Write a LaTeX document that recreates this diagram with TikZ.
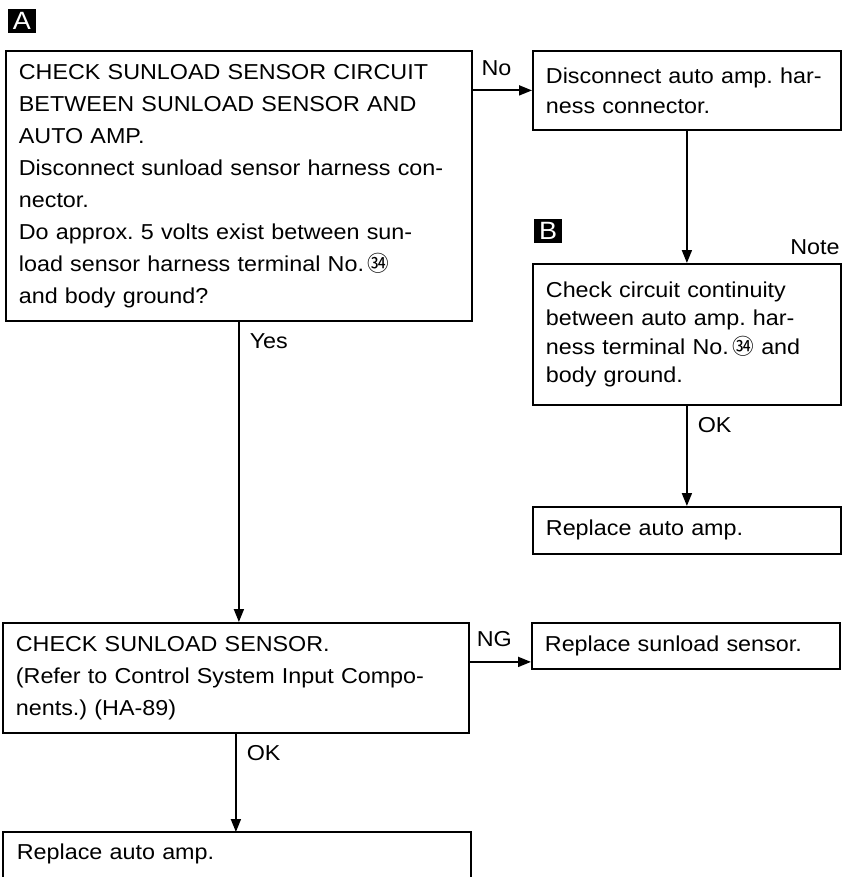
\documentclass[tikz,border=0pt]{standalone}
\usepackage{fontspec}
\setmainfont{Liberation Sans}[FakeStretch=1.08]
\newfontfamily\cjk{Noto Sans CJK JP}
\usetikzlibrary{arrows.meta,positioning,calc}
\newcommand{\termno}{{\cjk ㉞}}
\frenchspacing
\tikzset{
  stepbox/.style={rectangle,draw,line width=0.9pt,anchor=north west,inner xsep=6.5pt,inner ysep=0pt,align=left,font=\fontsize{10.8}{16}\selectfont},
  widebox/.style={stepbox,minimum width=233pt,text width=220pt},
  narrowbox/.style={stepbox,minimum width=154pt,text width=141pt},
  arrow/.style={-{Triangle[length=6.5pt,width=5pt]},line width=0.9pt},
  tag/.style={fill=black,text=white,font=\fontsize{12.5}{12.5}\selectfont,inner sep=0pt,minimum width=14pt,minimum height=12pt},
  lbl/.style={font=\fontsize{10.8}{12}\selectfont,inner sep=0pt},
  branch/.style={lbl,anchor=north west,pos=0,xshift=5pt,yshift=-5.5pt}
}
\begin{document}
\begin{tikzpicture}[x=0.5pt,y=-0.5pt]
  \useasboundingbox (0,0) rectangle (849,877);
  % step A
  \node[tag] (tagA) at (22,21) {A};
  \node[widebox,minimum height=135pt] (sensckt) at (5,50) {CHECK SUNLOAD SENSOR CIRCUIT\\BETWEEN SUNLOAD SENSOR AND\\AUTO AMP.\\Disconnect sunload sensor harness con-\\nector.\\Do approx. 5 volts exist between sun-\\load sensor harness terminal No.\,\termno\\and body ground?};
  \node[narrowbox,minimum height=39.5pt,font=\fontsize{10.8}{15}\selectfont] (disc) at (532,50) {Disconnect auto amp. har-\\ness connector.};
  % step B
  \node[tag] (tagB) at (548,231) {B};
  \node[lbl,anchor=east] (note) at (840,247) {Note};
  \node[narrowbox,minimum height=70.5pt,font=\fontsize{10.8}{14.2}\selectfont] (cont) at (532,263) {Check circuit continuity\\between auto amp. har-\\ness terminal No.\,\termno\ and\\body ground.};
  \node[narrowbox,minimum height=23.5pt] (ampA) at (532,506) {Replace auto amp.};
  % sunload sensor check
  \node[widebox,minimum height=55pt] (sens) at (2,622) {CHECK SUNLOAD SENSOR.\\(Refer to Control System Input Compo-\\nents.) (HA-89)};
  \node[narrowbox,minimum height=23pt] (newsens) at (531,622) {Replace sunload sensor.};
  \node[widebox,draw=none,minimum height=21pt] (ampB) at (3,832) {Replace auto amp.};
  \draw[line width=0.9pt] ([yshift=-10pt]ampB.south west) |- (ampB.north east) -- ([yshift=-10pt]ampB.south east);
  % connectors
  \draw[arrow] (sensckt.east |- disc.west) -- (disc.west) node[lbl,above=7pt,pos=0.4] {No};
  \draw[arrow] (disc.south) -- (disc.south |- cont.north);
  \draw[arrow] (cont.south) -- (cont.south |- ampA.north) node[branch] {OK};
  \draw[arrow] (sensckt.south) -- (sensckt.south |- sens.north) node[branch] {Yes};
  \draw[arrow] ([yshift=-8pt]newsens.west -| sens.east) -- ([yshift=-8pt]newsens.west) node[lbl,above=7pt,pos=0.4] {NG};
  \draw[arrow] (sens.south) -- (sens.south |- ampB.north) node[branch] {OK};
\end{tikzpicture}
\end{document}
